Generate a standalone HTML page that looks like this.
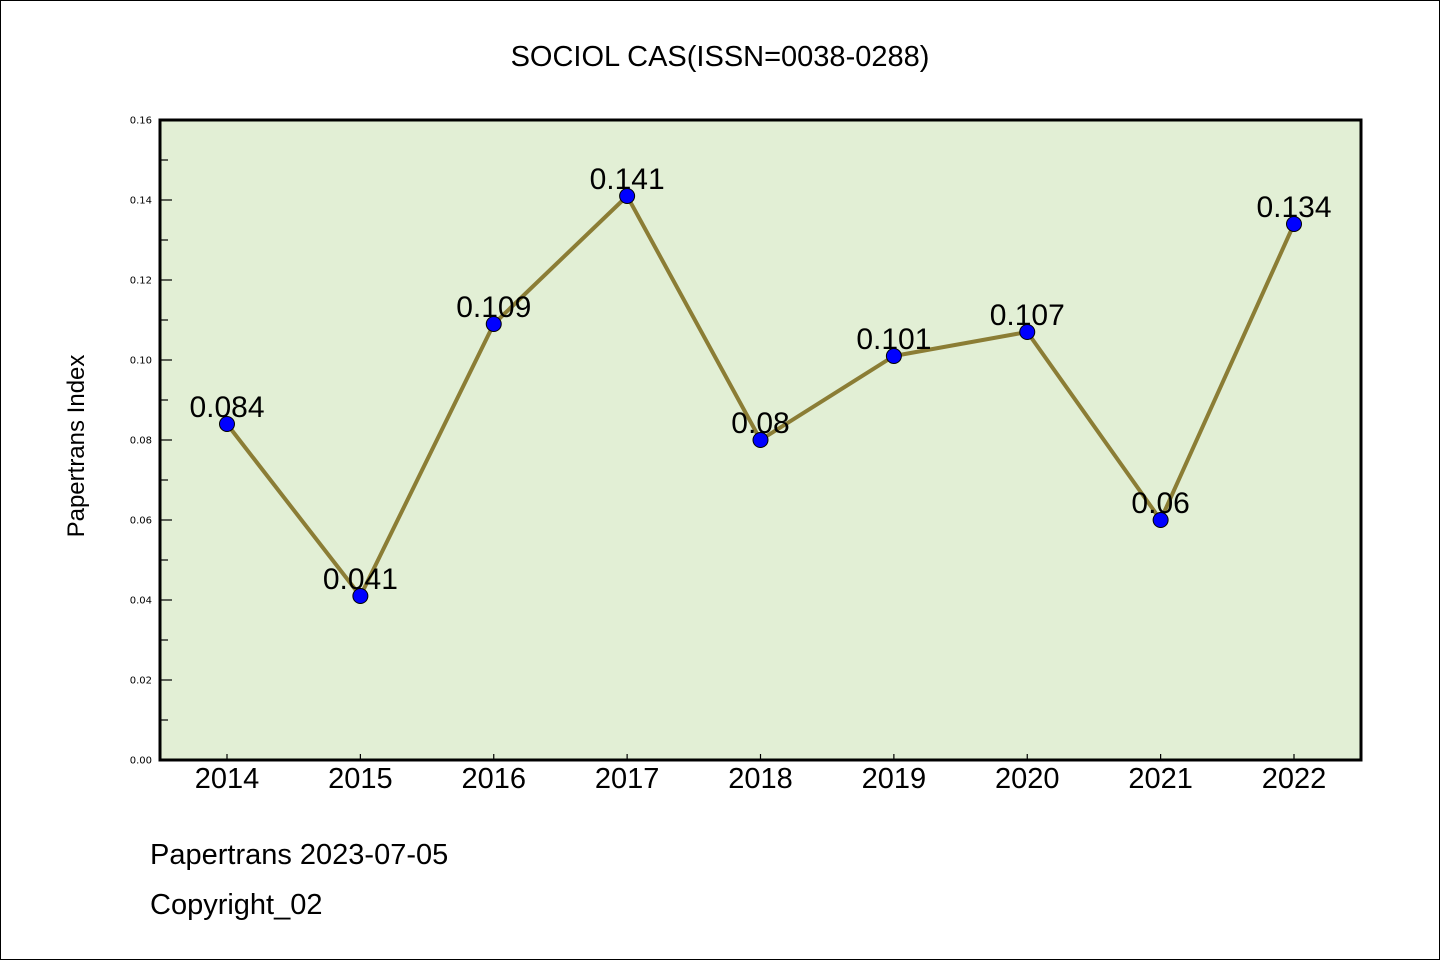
<!DOCTYPE html>
<html><head><meta charset="utf-8"><style>
html,body{margin:0;padding:0;background:#fff;}
svg{display:block;}
</style></head><body>
<svg id="chart" width="1440" height="960" viewBox="0 0 1440 960">
<rect x="0.5" y="0.5" width="1439" height="959" fill="#fff" stroke="#000" stroke-width="1"/>
<text x="720" y="66" text-anchor="middle" font-family="'WenQuanYi Zen Hei','Liberation Sans',sans-serif" font-size="29" fill="#000">SOCIOL CAS(ISSN=0038-0288)</text>
<rect x="160" y="120" width="1201" height="640" fill="#e2efd5"/>
<g id="yticks"></g>
<g id="xticks"></g>
<g id="series"></g>
<rect x="160" y="120" width="1201" height="640" fill="none" stroke="#000" stroke-width="3"/>
<text transform="translate(84,446) rotate(-90)" text-anchor="middle" font-family="'WenQuanYi Zen Hei','Liberation Sans',sans-serif" font-size="24" fill="#000">Papertrans Index</text>
<text x="150" y="864" font-family="'WenQuanYi Zen Hei','Liberation Sans',sans-serif" font-size="29" fill="#000">Papertrans 2023-07-05</text>
<text x="150" y="914" font-family="'WenQuanYi Zen Hei','Liberation Sans',sans-serif" font-size="29" fill="#000">Copyright_02</text>
</svg>
<script>
const categories = ["2014","2015","2016","2017","2018","2019","2020","2021","2022"];
const values = [0.084,0.041,0.109,0.141,0.08,0.101,0.107,0.06,0.134];
const valueLabels = ["0.084","0.041","0.109","0.141","0.08","0.101","0.107","0.06","0.134"];
const yTickLabels = ["0.00","0.02","0.04","0.06","0.08","0.10","0.12","0.14","0.16"];
const yTickValues = [0,0.02,0.04,0.06,0.08,0.10,0.12,0.14,0.16];

const NS="http://www.w3.org/2000/svg";
const x0=227, dx=(1294-227)/8;
function xs(i){return x0+i*dx;}
function ys(v){return 760-(v/0.16)*640;}
function mk(tag,attrs,parent){const e=document.createElementNS(NS,tag);for(const k in attrs)e.setAttribute(k,attrs[k]);parent.appendChild(e);return e;}
const yg=document.getElementById('yticks'), xg=document.getElementById('xticks'), sg=document.getElementById('series');
yTickValues.forEach((v,i)=>{
  const y=ys(v);
  const t=mk('line',{x1:160,x2:172,y1:y,y2:y,stroke:'#000','stroke-width':1.2},yg);
  
  
  const l=mk('text',{x:152,y:y+3.5,'text-anchor':'end','font-family':'DejaVu Sans,sans-serif','font-size':10,fill:'#000'},yg);
  l.textContent=yTickLabels[i];
  
  
  if(i<yTickValues.length-1){
    const ym=ys(v+0.01);
    const m=mk('line',{x1:160,x2:168,y1:ym,y2:ym,stroke:'#000','stroke-width':1.2},yg);
    
    
  }
});
categories.forEach((c,i)=>{
  const x=xs(i);
  const t=mk('line',{x1:x,x2:x,y1:760,y2:754,stroke:'#000','stroke-width':1.2},xg);
  
  
  const l=mk('text',{x:x,y:788,'text-anchor':'middle','font-family':'Liberation Sans,sans-serif','font-size':29,fill:'#000'},xg);
  l.textContent=c;
  
  
});
const pts=values.map((v,i)=>xs(i)+','+ys(v)).join(' ');
const pl=mk('polyline',{points:pts,fill:'none',stroke:'#8b7d35','stroke-width':4,'stroke-linejoin':'round'},sg);


values.forEach((v,i)=>{
  const c=mk('circle',{cx:xs(i),cy:ys(v),r:7.5,fill:'#0000ff',stroke:'#000','stroke-width':1},sg);
  
  
  const l=mk('text',{x:xs(i),y:ys(v)-7,'text-anchor':'middle','font-family':"'WenQuanYi Zen Hei','Liberation Sans',sans-serif",'font-size':30,fill:'#000'},sg);
  l.textContent=valueLabels[i];
  
  
});
</script>
</body></html>
